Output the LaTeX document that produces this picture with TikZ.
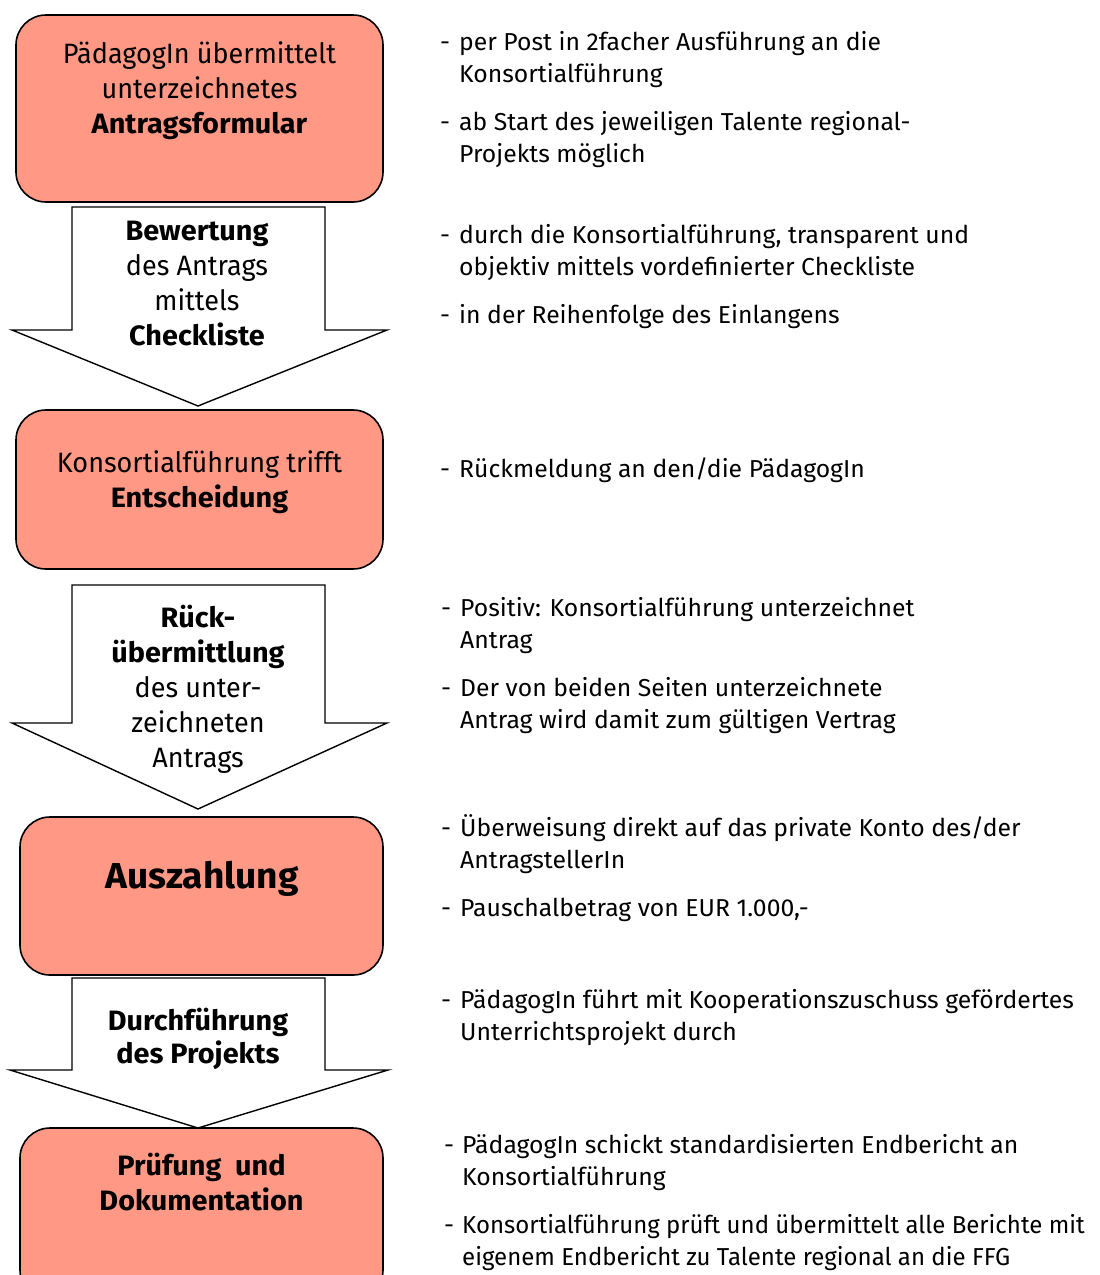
\documentclass[tikz,border=0pt]{standalone}
\usepackage{fontspec}
\setmainfont{Fira Sans}[UprightFeatures={FakeStretch=0.965}, BoldFeatures={FakeStretch=1.03}]
\newfontfamily\notefont{Fira Sans}[FakeStretch=1.01]
\newfontfamily\notefontnarrow{Fira Sans}[FakeStretch=0.98]
\definecolor{salmon}{RGB}{255,152,132}
\newcommand\ctab[1]{\begin{tabular}[t]{@{}c@{}}#1\end{tabular}}
\newcommand\ltab[1]{\begin{tabular}[t]{@{}l@{}}#1\end{tabular}}
\begin{document}
\begin{tikzpicture}[x=1pt,y=-1pt,
  box/.style={draw=black, line width=1.6pt, fill=salmon, rounded corners=30pt, inner sep=0pt},
  blockarrow/.style={draw=black, line width=1.4pt, fill=white, line join=miter},
  boxtext/.style={anchor=base, inner sep=0pt, font=\fontsize{28}{35}\selectfont},
  bulletdash/.style={anchor=base west, inner sep=0pt, font=\notefont\fontsize{24.5}{32}\selectfont},
  note/.style={anchor=base west, inner sep=0pt, font=\notefont\fontsize{24.5}{32}\selectfont},
]
\useasboundingbox (0,0) rectangle (1100,1275);
\clip (0,0) rectangle (1100,1275);

% boxes
\node[box, minimum width=367pt, minimum height=187pt] (b1) at (199.5,108.5) {};
\node[box, minimum width=367pt, minimum height=159pt] (b2) at (199.5,489.5) {};
\node[box, minimum width=363pt, minimum height=158pt] (b3) at (201.5,896) {};
\node[box, minimum width=363pt, minimum height=172pt] (b4) at (201.5,1214) {};

% block arrows (connectors between boxes)
\draw[blockarrow] (72,207) -- (325,207) -- (325,330) -- (387,330) -- (198,406) -- (12,330) -- (72,330) -- cycle;
\draw[blockarrow] (72,585) -- (325,585) -- (325,723) -- (387,723) -- (198,809) -- (12,723) -- (72,723) -- cycle;
\draw[blockarrow] (72,978) -- (325,978) -- (325,1070) -- (388,1070) -- (198,1128) -- (10,1070) -- (72,1070) -- cycle;

% box texts
\node[boxtext] (t1) at (199.5,63) {\ctab{PädagogIn übermittelt\\ unterzeichnetes\\ \textbf{Antragsformular}}};
\node[boxtext] (t2) at (197,240) {\ctab{\textbf{Bewertung}\\ des Antrags\\ mittels\\ \textbf{Checkliste}}};
\node[boxtext] (t3) at (199.5,472) {\ctab{Konsortialführung trifft\\ \textbf{Entscheidung}}};
\node[boxtext] (t4) at (198,627) {\ctab{\textbf{Rück-}\\ \textbf{übermittlung}\\ des unter-\\ zeichneten\\ Antrags}};
\node[boxtext, font=\fontsize{36}{40}\selectfont\bfseries] (t5) at (202,888) {Auszahlung};
\node[boxtext, font=\fontsize{28}{33}\selectfont] (t6) at (198,1030) {\ctab{\textbf{Durchführung}\\ \textbf{des Projekts}}};
\node[boxtext] (t7) at (201.5,1175) {\ctab{\textbf{Prüfung\ \ und}\\ \textbf{Dokumentation}}};

% notes
\node[bulletdash] (d1) at (440,50) {-};
\node[note] (n1) at (459,50) {\ltab{per Post in 2facher Ausführung an die\\ Konsortialführung}};
\node[bulletdash] (d2) at (440,130) {-};
\node[note] (n2) at (459,130) {\ltab{ab Start des jeweiligen Talente regional-\\ Projekts möglich}};
\node[bulletdash] (d3) at (440,243) {-};
\node[note] (n3) at (459,243) {\ltab{durch die Konsortialführung, transparent und\\ objektiv mittels vordefinierter Checkliste}};
\node[bulletdash] (d4) at (440,323) {-};
\node[note] (n4) at (459,323) {in der Reihenfolge des Einlangens};
\node[bulletdash] (d5) at (440,477) {-};
\node[note] (n5) at (459,477) {Rückmeldung an den/die PädagogIn};
\node[bulletdash] (d6) at (441,616) {-};
\node[note] (n6) at (460,616) {\ltab{Positiv: Konsortialführung unterzeichnet\\ Antrag}};
\node[bulletdash] (d7) at (441,696) {-};
\node[note] (n7) at (460,696) {\ltab{Der von beiden Seiten unterzeichnete\\ Antrag wird damit zum gültigen Vertrag}};
\node[bulletdash] (d8) at (441,836) {-};
\node[note] (n8) at (460,836) {\ltab{Überweisung direkt auf das private Konto des/der\\ AntragstellerIn}};
\node[bulletdash] (d9) at (441,916) {-};
\node[note] (n9) at (460,916) {Pauschalbetrag von EUR 1.000,-};
\node[bulletdash] (d10) at (441,1008) {-};
\node[note] (n10) at (460,1008) {\ltab{PädagogIn führt mit Kooperationszuschuss gefördertes\\ Unterrichtsprojekt durch}};
\node[bulletdash] (d11) at (444,1153) {-};
\node[note] (n11) at (462,1153) {\ltab{PädagogIn schickt standardisierten Endbericht an\\ Konsortialführung}};
\node[bulletdash] (d12) at (444,1233) {-};
\node[note, font=\notefontnarrow\fontsize{24.5}{32}\selectfont] (n12) at (462,1233) {\ltab{Konsortialführung prüft und übermittelt alle Berichte mit\\ eigenem Endbericht zu Talente regional an die FFG}};
\end{tikzpicture}
\end{document}
